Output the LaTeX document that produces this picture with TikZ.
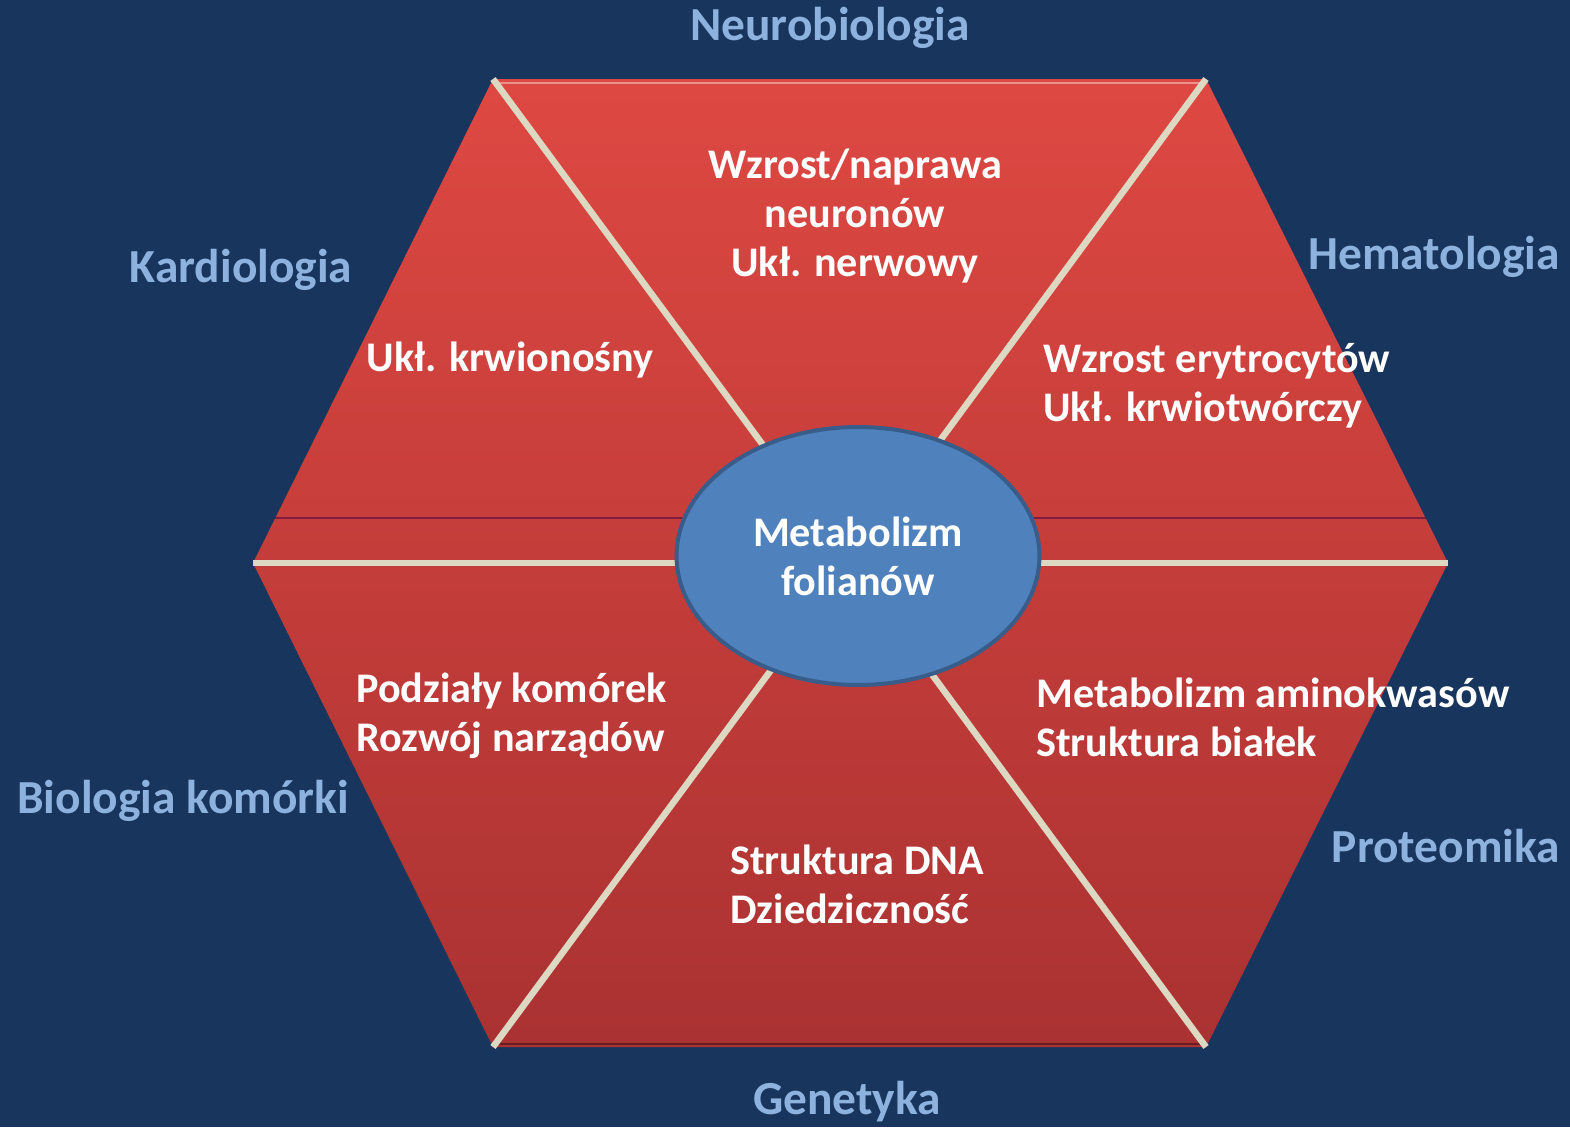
\documentclass[tikz,border=0pt]{standalone}
\usepackage{fontspec}
\setmainfont{Carlito}
\usetikzlibrary{shapes.geometric, calc}

\definecolor{navy}{RGB}{24,54,93}
\definecolor{fieldblue}{RGB}{142,178,222}
\definecolor{hextop}{RGB}{222,72,66}
\definecolor{hexbottom}{RGB}{170,50,50}
\definecolor{spokebeige}{RGB}{221,216,194}
\definecolor{ellfill}{RGB}{79,129,189}
\definecolor{ellborder}{RGB}{56,93,138}

\begin{document}
\begin{tikzpicture}[x=0.02cm, y=-0.02cm]
    % Define styles
    \tikzstyle{field} = [text=fieldblue, font=\bfseries\fontsize{27}{32}\selectfont, inner sep=0]
    \tikzstyle{topic} = [text=white, font=\bfseries\fontsize{24}{28}\selectfont, align=left, inner sep=0]
    \tikzstyle{spoke} = [draw=spokebeige, line width=0.13cm]
    \tikzstyle{hub} = [ellipse, fill=ellfill, draw=ellborder, line width=0.08cm, minimum width=7.26cm, minimum height=5.16cm, text=white, align=center, font=\bfseries\fontsize{24}{28}\selectfont]

    % Background
    \fill[navy] (0,0) rectangle (1570,1127);
    \useasboundingbox (0,0) rectangle (1570,1127);

    % Hexagon corners
    \coordinate (tl) at (493,79);
    \coordinate (tr) at (1206,79);
    \coordinate (r) at (1448,563);
    \coordinate (br) at (1206,1047);
    \coordinate (bl) at (493,1047);
    \coordinate (l) at (253,563);
    \coordinate (mid) at (850,563);

    % Hexagon
    \shade[top color=hextop, bottom color=hexbottom] (tl) -- (tr) -- (r) -- (br) -- (bl) -- (l) -- cycle;
    \draw[hextop!60!white, line width=0.05cm] ($(tl)+(3,4)$) -- ($(tr)+(-3,4)$); % top gloss
    \draw[black!40!hexbottom, line width=0.05cm] ($(bl)+(2,-3)$) -- ($(br)+(-2,-3)$); % bottom shade
    \draw[violet!50!black, opacity=0.5, line width=0.03cm] ($(l)!0.093!(tl)$) -- ($(r)!0.093!(tr)$);

    % Spokes
    \draw[spoke] (tl) -- (mid);
    \draw[spoke] (tr) -- (mid);
    \draw[spoke] (r) -- (mid);
    \draw[spoke] (br) -- (mid);
    \draw[spoke] (bl) -- (mid);
    \draw[spoke] (l) -- (mid);

    % Center
    \node[hub] (folate) at (858,556) {Metabolizm\\folianów};

    % Topics inside the hexagon
    \node[topic, align=center] (neuro) at (855,216) {Wzrost/naprawa\\neuronów\\Ukł. nerwowy};
    \node[topic] (cardio) at (510,360) {Ukł. krwionośny};
    \node[topic, anchor=west] (hemato) at (1043,386) {Wzrost erytrocytów\\Ukł. krwiotwórczy};
    \node[topic, anchor=west] (cell) at (356,716) {Podziały komórek\\Rozwój narządów};
    \node[topic, anchor=west] (protein) at (1036,717) {Metabolizm aminokwasów\\Struktura białek};
    \node[topic, anchor=west] (gene) at (730,884) {Struktura DNA\\Dziedziczność};

    % Fields around the hexagon
    \node[field] (neurobio) at (830,28) {Neurobiologia};
    \node[field] (kardio) at (241,270) {Kardiologia};
    \node[field] (hema) at (1434,257) {Hematologia};
    \node[field] (biokom) at (183,801) {Biologia komórki};
    \node[field] (proteo) at (1446,846) {Proteomika};
    \node[field] (genet) at (847,1102) {Genetyka};
\end{tikzpicture}
\end{document}
